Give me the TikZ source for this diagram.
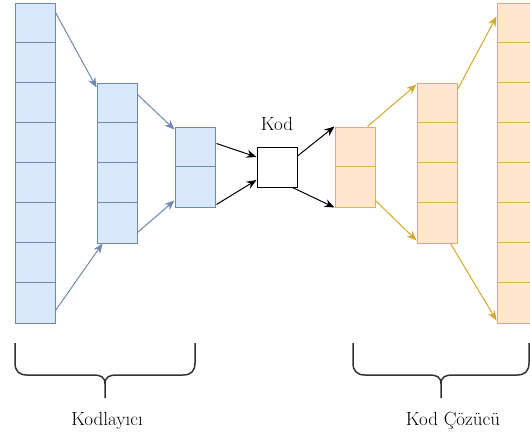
\documentclass[tikz,border=0pt]{standalone}
\usetikzlibrary{calc,arrows.meta}

\definecolor{encfill}{HTML}{DAE8FC}
\definecolor{encline}{HTML}{7088B0}
\definecolor{decfill}{HTML}{FFE6CC}
\definecolor{decline}{HTML}{D6B656}
\definecolor{decarrow}{HTML}{D4A82A}
\definecolor{bracecol}{HTML}{333333}

\tikzset{
  layer/.style={rectangle, draw, line width=1pt, minimum width=40pt, inner sep=0pt},
  enclayer/.style={layer, draw=encline, fill=encfill},
  declayer/.style={layer, draw=decline, fill=decfill},
  link/.style={line width=1pt, -{Stealth[length=10pt,width=8pt]}},
  enclink/.style={link, draw=encline, color=encline},
  declink/.style={link, draw=decarrow, color=decarrow},
  codelink/.style={link, black},
  brace/.style={line width=1.5pt, draw=bracecol},
  lbl/.style={font=\fontsize{19}{22}\selectfont, inner sep=0pt, anchor=base, text=black}
}

% draws the horizontal cell dividers of a layer node with n cells
\newcommand{\celldividers}[3]{%
  \foreach \k in {1,...,\numexpr#2-1\relax}
    \draw[line width=1pt, draw=#3]
      ($(#1.north west)+(0,40*\k)$) -- ($(#1.north east)+(0,40*\k)$);
}

\begin{document}
\begin{tikzpicture}[x=1pt,y=-1pt]
\useasboundingbox (0,0) rectangle (530,439);

% encoder layers
\node[enclayer, minimum height=320pt] (e1) at (35,163) {};
\node[enclayer, minimum height=160pt] (e2) at (117,163) {};
\node[enclayer, minimum height=80pt]  (e3) at (195,167) {};
\celldividers{e1}{8}{encline}
\celldividers{e2}{4}{encline}
\celldividers{e3}{2}{encline}

% code
\node[rectangle, draw=black, fill=white, line width=1pt, minimum width=40pt, minimum height=40pt, inner sep=0pt] (code) at (277,167) {};
\node[lbl] (codelbl) at (277,130) {Kod};

% decoder layers
\node[declayer, minimum height=80pt]  (d1) at (355,167) {};
\node[declayer, minimum height=160pt] (d2) at (437,163) {};
\node[declayer, minimum height=320pt] (d3) at (517,163) {};
\celldividers{d1}{2}{decline}
\celldividers{d2}{4}{decline}
\celldividers{d3}{8}{decline}

% encoder connectors
\draw[enclink] ($(e1.north east)+(0,10)$) -- ($(e2.north west)+(0,5)$);
\draw[enclink] ($(e1.south east)+(0,-13)$) -- ($(e2.south west)+(6,0)$);
\draw[enclink] ($(e2.north east)+(0,12)$) -- ($(e3.north west)+(0,3)$);
\draw[enclink] ($(e2.south east)+(0,-11)$) -- ($(e3.south west)+(0,-7)$);

% into and out of the code
\draw[codelink] ($(e3.north east)+(1,17)$) -- ($(code.west)+(0,-10)$);
\draw[codelink] ($(e3.south east)+(1,-3)$) -- ($(code.west)+(0,13)$);
\draw[codelink] ($(code.east)+(0,-11)$) -- (d1.north west);
\draw[codelink] ($(code.south east)+(-5,0)$) -- (d1.south west);

% decoder connectors
\draw[declink] ($(d1.north east)+(-8,0)$) -- ($(d2.north west)+(0,2)$);
\draw[declink] ($(d1.south east)+(0,-7)$) -- ($(d2.south west)+(0,-3)$);
\draw[declink] ($(d2.north east)+(0,7)$) -- ($(d3.north west)+(0,14)$);
\draw[declink] ($(d2.south east)+(-7,0)$) -- ($(d3.south west)+(0,-3)$);

% braces under the two halves
\draw[brace] (15,343) -- (15,363) .. controls (15,371) and (19,375) .. (27,375)
  -- (93,375) .. controls (101,375) and (105,377) .. (105,384) -- (105,398);
\draw[brace] (195,343) -- (195,363) .. controls (195,371) and (191,375) .. (183,375)
  -- (117,375) .. controls (109,375) and (105,377) .. (105,384);
\draw[brace] (353,343) -- (353,363) .. controls (353,371) and (357,375) .. (365,375)
  -- (429,375) .. controls (437,375) and (441,377) .. (441,384) -- (441,398);
\draw[brace] (529,343) -- (529,363) .. controls (529,371) and (525,375) .. (517,375)
  -- (453,375) .. controls (445,375) and (441,377) .. (441,384);

\node[lbl] (enclbl) at (107,425) {Kodlayıcı};
\node[lbl] (declbl) at (453,425) {Kod Çözücü};
\end{tikzpicture}
\end{document}
